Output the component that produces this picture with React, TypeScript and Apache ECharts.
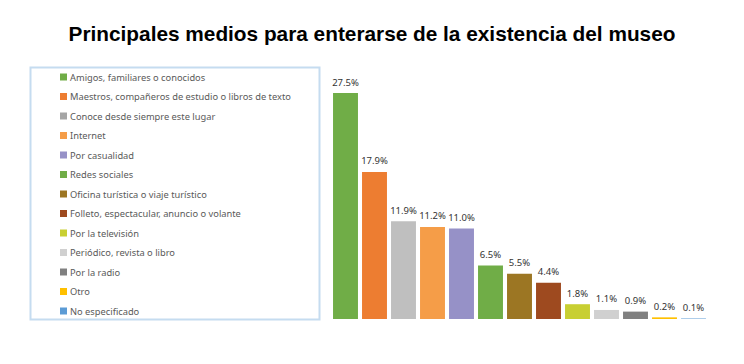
import React, { useEffect, useRef } from "react";
import * as echarts from "echarts";

const categories = [
  "Amigos, familiares o conocidos",
  "Maestros, compañeros de estudio o libros de texto",
  "Conoce desde siempre este lugar",
  "Internet",
  "Por casualidad",
  "Redes sociales",
  "Oficina turística o viaje turístico",
  "Folleto, espectacular, anuncio o volante",
  "Por la televisión",
  "Periódico, revista o libro",
  "Por la radio",
  "Otro",
  "No especificado",
];

const values = [27.5, 17.9, 11.9, 11.2, 11.0, 6.5, 5.5, 4.4, 1.8, 1.1, 0.9, 0.2, 0.1];

const colors = [
  "#70ad47",
  "#ed7d31",
  "#bfbfbf",
  "#f59d48",
  "#9691c7",
  "#70ad47",
  "#9c7623",
  "#9e4a1f",
  "#c8cf32",
  "#d0d0d0",
  "#808080",
  "#ffc000",
  "#9dc3e6",
];

const legendColors = [
  "#70ad47",
  "#ed7d31",
  "#a5a5a5",
  "#f59d48",
  "#9691c7",
  "#70ad47",
  "#9c7623",
  "#9e4a1f",
  "#c8cf32",
  "#d0d0d0",
  "#808080",
  "#ffc000",
  "#5b9bd5",
];

export default function App() {
  const ref = useRef<HTMLDivElement>(null);
  useEffect(() => {
    if (!ref.current) return;
    const chart = echarts.init(ref.current, null, { renderer: "svg" });
    const series = categories.map((name, i) => ({
      name,
      type: "bar",
      stack: "all",
      barCategoryGap: "14%",
      itemStyle: { color: colors[i] },
      label: {
        show: true,
        position: "top",
        distance: 6,
        formatter: (p: any) => Number(p.value).toFixed(1) + "%",
        fontFamily: "Noto Sans, sans-serif",
        fontSize: 9.5,
        color: "#333333",
      },
      data: values.map((v, j) => (j === i ? v : "-")),
    }));
    chart.setOption({
      animation: false,
      backgroundColor: "#ffffff",
      title: {
        text: "Principales medios para enterarse de la existencia del museo",
        left: "center",
        top: 18,
        textStyle: {
          fontFamily: "Liberation Sans, Arial, sans-serif",
          fontWeight: "bold",
          fontSize: 20.8,
          color: "#000000",
        },
      },
      legend: {
        orient: "vertical",
        left: 60,
        top: 72,
        padding: 0,
        itemWidth: 7,
        itemHeight: 7,
        itemGap: 9.5,
        icon: "rect",
        selectedMode: false,
        data: categories.map((n, i) => ({ name: n, itemStyle: { color: legendColors[i] } })),
        textStyle: {
          fontFamily: "Noto Sans, sans-serif",
          fontSize: 9.3,
          lineHeight: 10,
          color: "#595959",
          padding: [0, 0, 0, -2],
        },
      },
      graphic: [
        {
          type: "rect",
          shape: { x: 30.5, y: 67.5, width: 289, height: 252 },
          style: { fill: "none", stroke: "#c5dcf0", lineWidth: 2 },
        },
      ],
      grid: { left: 331, width: 377, top: 72.5, bottom: 45 },
      xAxis: {
        type: "category",
        data: categories,
        show: false,
      },
      yAxis: {
        type: "value",
        min: 0,
        max: 30,
        show: false,
        splitLine: { show: false },
      },
      series,
    });
    return () => chart.dispose();
  }, []);
  return <div ref={ref} style={{ width: 744, height: 364, position: "absolute", left: 0, top: 0 }} />;
}
